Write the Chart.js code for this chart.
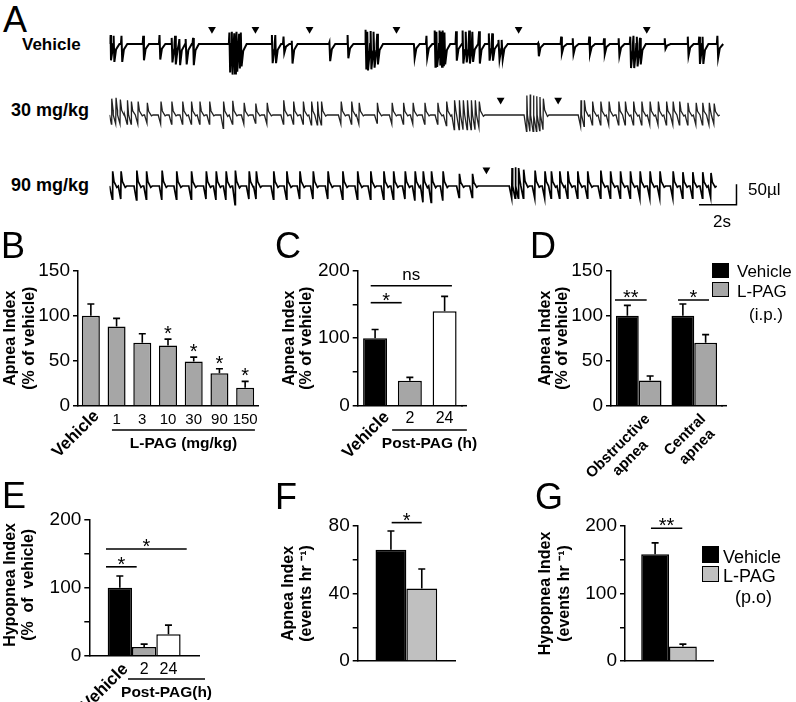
<!DOCTYPE html>
<html>
<head>
<meta charset="utf-8">
<title>L-PAG apnea figure</title>
<script src="https://cdn.jsdelivr.net/npm/chart.js@4.4.1/dist/chart.umd.min.js"></script>
<style>
  html, body { margin: 0; padding: 0; background: #fff; }
  body { position: relative; width: 796px; height: 702px; overflow: hidden; font-family: "Liberation Sans", Arial, sans-serif; }
  canvas { position: absolute; }
  .txt { position: absolute; white-space: pre; line-height: 1; color: #000; }
  .key { position: absolute; box-sizing: border-box; border: 1.5px solid #000; }
</style>
</head>
<body>
<script>
// Panel A: breaths, [time (s), rise (ul), dip (ul)]
const vehicleBreaths = [
  [0.05, 22, 40], [0.23, 20, 44], [0.65, 20, 44], [1.81, 20, 40], [2.68, 22, 38], [3.33, 15, 45],
  [3.51, 20, 50], [3.74, 12, 52], [4.09, 12, 50], [4.47, 15, 52],
  [6.41, 28, 70], [6.54, 30, 75], [6.67, 26, 72], [6.79, 30, 68], [6.93, 25, 60], [7.02, 28, 55],
  [8.68, 22, 47], [8.86, 22, 47], [9.30, 18, 22], [9.74, 8, 48], [11.75, 4, 42], [12.72, 22, 35],
  [13.68, 35, 60], [13.77, 30, 65], [13.95, 32, 62], [14.12, 30, 58], [14.30, 25, 50],
  [16.26, 2, 35], [16.93, 20, 34],
  [17.37, 33, 56], [17.46, 30, 56], [17.63, 33, 50], [17.72, 30, 56], [17.81, 33, 52], [17.89, 28, 50],
  [18.51, 31, 41], [18.86, 33, 48], [19.04, 30, 45], [19.21, 33, 48], [19.38, 30, 44], [19.74, 31, 48],
  [20.26, 26, 41], [20.44, 26, 41], [20.79, 10, 38], [20.96, 10, 38],
  [22.89, 2, 30], [24.12, 18, 23], [24.74, 14, 25], [25.62, 18, 25], [26.41, 14, 25], [27.19, 14, 29],
  [27.81, 18, 59], [27.98, 20, 59], [28.16, 18, 55], [28.33, 15, 50],
  [29.65, 14, 12], [30.88, 18, 29], [31.49, 18, 49], [31.67, 18, 49], [32.46, 20, 34]
];
const dose30Breaths = [
  [0.12, 40, 22], [0.35, 42, 22], [0.58, 38, 22], [0.96, 36, 22], [1.17, 33, 22], [1.53, 33, 22],
  [2.02, 30, 20], [2.75, 33, 22], [3.33, 33, 22], [3.91, 33, 22], [4.38, 33, 22], [4.83, 33, 22],
  [5.35, 33, 22], [6.09, 33, 33], [6.58, 35, 22], [7.19, 30, 22], [7.81, 28, 20], [8.42, 30, 22],
  [9.30, 36, 22], [9.83, 33, 22], [10.35, 33, 22], [10.79, 33, 24], [11.11, 33, 24], [11.32, 33, 24],
  [12.37, 33, 22], [12.93, 33, 22], [13.33, 30, 22], [14.30, 30, 20], [15.09, 30, 22], [15.70, 30, 22],
  [16.21, 30, 22], [16.84, 30, 22], [17.53, 30, 22], [18.00, 33, 26], [18.42, 36, 36], [18.68, 36, 36],
  [18.89, 36, 36], [19.11, 36, 36], [19.32, 36, 36], [19.53, 36, 36], [19.74, 33, 30],
  [22.28, 48, 40], [22.46, 50, 40], [22.63, 48, 40], [22.81, 46, 40], [22.98, 44, 38], [23.16, 40, 36],
  [25.17, 36, 28], [25.35, 36, 28], [25.79, 33, 24], [26.23, 33, 24], [26.67, 33, 24], [27.19, 33, 24],
  [27.54, 33, 24], [27.98, 33, 24], [28.42, 33, 24], [28.86, 33, 24], [29.30, 33, 24], [29.74, 33, 24],
  [30.09, 33, 24], [30.44, 33, 24], [30.88, 30, 24], [31.32, 30, 24], [31.67, 30, 24], [32.02, 30, 24],
  [32.28, 28, 22]
];
const dose90Breaths = [
  [0.17, 36, 32], [0.62, 36, 32], [1.46, 38, 34], [1.98, 36, 32], [2.81, 38, 34], [3.59, 36, 32],
  [4.38, 36, 32], [5.17, 36, 32], [5.70, 36, 34], [6.23, 36, 34], [6.72, 38, 46], [7.46, 36, 32],
  [7.84, 36, 32], [8.77, 36, 32], [9.47, 36, 32], [10.17, 36, 32], [10.88, 36, 32], [11.67, 36, 32],
  [12.46, 36, 32], [13.25, 36, 32], [13.95, 36, 32], [14.65, 36, 32], [15.17, 36, 32], [15.79, 36, 32],
  [16.32, 36, 36], [16.75, 36, 40], [17.19, 36, 40], [17.81, 36, 36], [18.68, 30, 28], [19.38, 30, 28],
  [21.49, 44, 30], [21.67, 46, 30], [21.84, 44, 30], [22.11, 40, 30], [22.72, 38, 30], [23.25, 36, 30],
  [23.59, 36, 30], [24.04, 36, 30], [24.47, 36, 30], [25.00, 36, 30], [25.53, 36, 30], [26.23, 38, 30],
  [26.75, 36, 30], [27.28, 36, 30], [27.81, 36, 30], [28.33, 36, 30], [28.86, 36, 30], [29.39, 36, 30],
  [30.09, 36, 30], [30.61, 34, 30], [31.14, 34, 30], [31.67, 34, 30], [32.11, 32, 28]
];
const vehicleApneas = [5.47, 7.79, 10.68, 15.32, 21.84, 28.68];
const dose30Apneas = [20.88, 23.95];
const dose90Apneas = [20.12];

// Panel B: apnea index by L-PAG dose (% of vehicle)
const doseLabels = ['Vehicle', '1', '3', '10', '30', '90', '150'];
const doseMeans = [100, 88, 70, 67, 49, 36, 20];
const doseErrors = [13, 9, 10, 7, 5, 5, 7];
const doseStars = ['', '', '', '*', '*', '*', '*'];

// Panel C: apnea index after L-PAG (h)
const timeLabels = ['Vehicle', '2', '24'];
const timeMeans = [100, 37, 140];
const timeErrors = [13, 5, 22];

// Panel D: obstructive vs central apnea
const typeLabels = [['Obstructive', 'apnea'], ['Central', 'apnea']];
const typeVehicle = [100, 100];
const typeVehicleErr = [11.5, 13];
const typeLpag = [28, 70];
const typeLpagErr = [5, 9];

// Panel E: hypopnea index after L-PAG (h)
const hypoLabels = ['Vehicle', '2', '24'];
const hypoMeans = [100, 13, 31.5];
const hypoErrors = [17.5, 4, 13.5];

// Panels F and G: oral dosing, events per hour [vehicle, L-PAG]
const oralApnea = [66, 43];
const oralApneaErr = [11, 11.5];
const oralHypopnea = [158, 21.5];
const oralHypopneaErr = [17, 3.5];

const FONT = '"Liberation Sans", Arial, sans-serif';
const BLACK = '#000000';
const GREY = '#a6a6a6';
const LIGHT = '#c0c0c0';
const WHITE = '#ffffff';

Chart.defaults.font.family = FONT;
Chart.defaults.color = '#000';

function makeCanvas(box) {
  const cv = document.createElement('canvas');
  cv.width = box.r - box.l;
  cv.height = box.b - box.t;
  cv.style.left = box.l + 'px';
  cv.style.top = box.t + 'px';
  document.body.appendChild(cv);
  return cv;
}

function put(text, x, base, size, bold) {
  const d = document.createElement('div');
  d.className = 'txt';
  d.textContent = text;
  d.style.left = x + 'px';
  d.style.top = (base - 0.8465 * size).toFixed(1) + 'px';
  d.style.fontSize = size + 'px';
  if (bold) d.style.fontWeight = 'bold';
  document.body.appendChild(d);
}

function key(x, y, w, h, color) {
  const d = document.createElement('div');
  d.className = 'key';
  d.style.left = x + 'px';
  d.style.top = y + 'px';
  d.style.width = w + 'px';
  d.style.height = h + 'px';
  d.style.background = color;
  document.body.appendChild(d);
}

// ---------- traces ----------
function buildTrace(breaths, shape) {
  const pts = [{x: 0, y: 0}];
  breaths.forEach(([t, up, down], i) => {
    const next = i + 1 < breaths.length ? breaths[i + 1][0] : Infinity;
    shape.forEach(([dt, a, b]) => {
      const x = t + dt;
      if (x <= pts[pts.length - 1].x) return;
      if (dt > 0.02 && x >= next + shape[0][0]) return;
      pts.push({x: x, y: a * up - b * down});
    });
  });
  return pts;
}

const spikeShape = [[-0.04, 0, 0], [-0.01, 1, 0], [0.03, 0, 1], [0.12, 0, 0.3], [0.3, 0, 0]];
const sawShape = [[-0.15, 0, 0], [-0.02, 0, 1], [0, 1, 0], [0.07, 0.3, 0], [0.22, 0, 0.1], [0.3, 0, 0]];

const scaleBar = {
  id: 'scaleBar',
  afterDraw(chart, args, opts) {
    if (!opts || !opts.show) return;
    const {ctx, scales: {x, y}} = chart;
    const x0 = x.getPixelForValue(opts.t0), x1 = x.getPixelForValue(opts.t0 + opts.sec);
    const y0 = y.getPixelForValue(opts.v0), y1 = y.getPixelForValue(opts.v0 + opts.vol);
    ctx.save();
    ctx.strokeStyle = '#000';
    ctx.lineWidth = 1.5;
    ctx.beginPath();
    ctx.moveTo(x0, y0);
    ctx.lineTo(x1, y0);
    ctx.lineTo(x1, y1);
    ctx.stroke();
    ctx.restore();
  }
};

function tracePanel(top, breaths, shape, apneas, arrowAt, width, color, bar) {
  const cv = makeCanvas({l: 105, t: top, r: 745, b: top + 80});
  new Chart(cv, {
    type: 'line',
    data: {
      datasets: [
        {data: buildTrace(breaths, shape), borderColor: color, borderWidth: width,
         pointRadius: 0, tension: 0, fill: false},
        {type: 'scatter', data: apneas.map(t => ({x: t, y: arrowAt})), pointStyle: 'triangle',
         rotation: 180, pointRadius: 4.5, backgroundColor: '#000', borderWidth: 0}
      ]
    },
    options: {
      responsive: false, animation: false, events: [],
      layout: {padding: 0},
      plugins: {legend: {display: false}, tooltip: {enabled: false}, scaleBar: bar || {show: false}},
      scales: {
        x: {type: 'linear', display: false, min: 0, max: 640 / 19},
        y: {display: false, min: -87, max: 87}
      }
    },
    plugins: [scaleBar]
  });
}

tracePanel(4, vehicleBreaths, spikeShape, vehicleApneas, 36, 2, '#000');
tracePanel(75, dose30Breaths, sawShape, dose30Apneas, 37, 1.3, '#222');
tracePanel(146, dose90Breaths, sawShape, dose90Apneas, 40, 1.7, '#000',
  {show: true, t0: 31.47, sec: 2, v0: -46, vol: 50});

// ---------- bar panels ----------
function marks(spec) {
  return {
    id: 'marks',
    afterDraw(chart) {
      const {ctx, chartArea: area, scales: {x, y}} = chart;
      ctx.save();
      ctx.strokeStyle = '#000';
      ctx.fillStyle = '#000';
      ctx.lineWidth = 1.6;
      ctx.textBaseline = 'alphabetic';
      const bars = [];
      chart.data.datasets.forEach((ds, di) => {
        chart.getDatasetMeta(di).data.forEach((bar, j) => {
          bars.push(bar);
          const top = y.getPixelForValue(ds.data[j] + ds.errors[j]);
          ctx.beginPath();
          ctx.moveTo(bar.x, bar.y);
          ctx.lineTo(bar.x, top);
          ctx.moveTo(bar.x - 3.5, top);
          ctx.lineTo(bar.x + 3.5, top);
          ctx.stroke();
          if (ds.stars && ds.stars[j]) {
            ctx.font = '20px ' + FONT;
            ctx.textAlign = 'center';
            ctx.fillText(ds.stars[j], bar.x, top + 1);
          }
        });
      });

      if (spec.axisExtra) {
        ctx.lineWidth = 1.5;
        ctx.beginPath();
        ctx.moveTo(area.right - 1, area.bottom);
        ctx.lineTo(area.right + spec.axisExtra, area.bottom);
        ctx.stroke();
        ctx.lineWidth = 1.6;
      }

      // y-axis title, two rotated lines
      ctx.save();
      ctx.font = 'bold 16px ' + FONT;
      ctx.textAlign = 'center';
      ctx.textBaseline = 'middle';
      spec.yTitle.forEach((s, k) => {
        ctx.save();
        ctx.translate(spec.titleX[k], (area.top + area.bottom) / 2 + (spec.titleDy || 0));
        ctx.rotate(-Math.PI / 2);
        ctx.fillText(s, 0, 0);
        ctx.restore();
      });
      ctx.restore();

      (spec.brackets || []).forEach(b => {
        const yy = y.getPixelForValue(b.at);
        const x1 = x.getPixelForValue(b.from), x2 = x.getPixelForValue(b.to);
        ctx.beginPath();
        ctx.moveTo(x1, yy);
        ctx.lineTo(x2, yy);
        ctx.stroke();
        const star = b.text.charAt(0) === '*';
        ctx.font = (star ? '20px ' : '17px ') + FONT;
        ctx.textAlign = 'center';
        ctx.fillText(b.text, (x1 + x2) / 2, star ? yy + 4 : yy - 6);
      });

      // x labels: rotated blocks are anchored at their upper-right end, lines centred
      const pos = spec.perBar ? bars.map(b => b.x) : spec.labels.map((_, i) => x.getPixelForValue(i));
      spec.labels.forEach((lab, i) => {
        const lines = [].concat(lab);
        if (spec.rotate[i]) {
          ctx.save();
          ctx.translate(pos[i] + spec.rot[0], area.bottom + spec.rot[1]);
          ctx.rotate(-Math.PI / 4);
          ctx.font = 'bold ' + spec.rotSize + 'px ' + FONT;
          ctx.textAlign = 'center';
          const w = Math.max(...lines.map(s => ctx.measureText(s).width));
          lines.forEach((s, k) => ctx.fillText(s, -w / 2, k * 17));
          ctx.restore();
        } else {
          ctx.font = spec.numSize + 'px ' + FONT;
          ctx.textAlign = 'center';
          ctx.textBaseline = 'middle';
          ctx.fillText(lines[0], pos[i], area.bottom + spec.numDy);
          ctx.textBaseline = 'alphabetic';
        }
      });

      if (spec.group) {
        const g = spec.group;
        const gy = area.bottom + g.dy;
        const gx1 = x.getPixelForValue(g.from), gx2 = x.getPixelForValue(g.to);
        ctx.lineWidth = 1.5;
        ctx.beginPath();
        ctx.moveTo(gx1, gy);
        ctx.lineTo(gx2, gy);
        ctx.stroke();
        ctx.font = 'bold 15.5px ' + FONT;
        ctx.textAlign = 'center';
        ctx.fillText(g.text, (gx1 + gx2) / 2, gy + 18);
      }
      ctx.restore();
    }
  };
}

function barPanel(box, area, cfg) {
  const cv = makeCanvas(box);
  cfg.marks.yTitle = cfg.yTitle;
  cfg.marks.titleX = cfg.titleX.map(v => v - box.l);
  return new Chart(cv, {
    type: 'bar',
    data: {labels: cfg.labels, datasets: cfg.datasets},
    options: {
      responsive: false, animation: false, events: [],
      layout: {padding: {left: 0, top: area.t - box.t, right: box.r - area.r, bottom: 0}},
      datasets: {bar: {categoryPercentage: cfg.catPct, barPercentage: cfg.barPct,
                       borderColor: '#000', borderWidth: 1.5}},
      plugins: {legend: {display: false}, tooltip: {enabled: false}},
      scales: {
        x: {
          ticks: {display: false},
          grid: {display: false},
          border: {color: '#000', width: 1.5},
          afterFit: s => { s.height = box.b - area.b; }
        },
        y: {
          min: 0, max: cfg.max,
          ticks: {stepSize: cfg.step, color: '#000', font: {size: 19}, padding: 3,
                  callback: v => (v % cfg.labelEvery === 0 ? String(v) : '')},
          grid: {drawOnChartArea: false, drawTicks: true, tickLength: 5, color: '#000', lineWidth: 1.5},
          border: {color: '#000', width: 1.5},
          afterFit: s => { s.width = area.l - box.l; }
        }
      }
    },
    plugins: [marks(cfg.marks)]
  });
}

// B
barPanel({l: 0, t: 225, r: 262, b: 462}, {l: 78, t: 270.7, r: 258, b: 405.7}, {
  labels: doseLabels, max: 150, step: 25, labelEvery: 50, catPct: 1, barPct: 0.7,
  yTitle: ['Apnea Index', '(% of vehicle)'], titleX: [11, 30],
  datasets: [{data: doseMeans, errors: doseErrors, stars: doseStars, backgroundColor: GREY}],
  marks: {labels: doseLabels, rotate: [true, false, false, false, false, false, false],
          rot: [9, 11], rotSize: 17, numSize: 15, numDy: 14.3,
          group: {from: 0.82, to: 6.38, dy: 24.3, text: 'L-PAG (mg/kg)'}}
});

// C
barPanel({l: 262, t: 225, r: 505, b: 462}, {l: 357.7, t: 270.7, r: 462, b: 405.7}, {
  labels: timeLabels, max: 200, step: 50, labelEvery: 100, catPct: 1, barPct: 0.69,
  yTitle: ['Apnea Index', '(% of vehicle)'], titleX: [290, 307],
  datasets: [{data: timeMeans, errors: timeErrors, backgroundColor: [BLACK, GREY, WHITE]}],
  marks: {labels: timeLabels, rotate: [true, false, false], rot: [15, 12], rotSize: 17,
          numSize: 16, numDy: 13, axisExtra: 5,
          brackets: [{from: -0.126, to: 0.765, at: 152.6, text: '*'},
                     {from: -0.126, to: 2.21, at: 177.8, text: 'ns'}],
          group: {from: 0.49, to: 2.64, dy: 24.3, text: 'Post-PAG (h)'}}
});

// D
barPanel({l: 505, t: 225, r: 735, b: 490}, {l: 611, t: 270.7, r: 722, b: 405.7}, {
  labels: typeLabels, max: 150, step: 25, labelEvery: 50, catPct: 0.82, barPct: 1,
  yTitle: ['Apnea Index', '(% of vehicle)'], titleX: [545.5, 563],
  datasets: [{label: 'Vehicle', data: typeVehicle, errors: typeVehicleErr, backgroundColor: BLACK},
             {label: 'L-PAG', data: typeLpag, errors: typeLpagErr, backgroundColor: GREY}],
  marks: {labels: typeLabels, rotate: [true, true], rot: [12, 14], rotSize: 15, axisExtra: 5,
          brackets: [{from: -0.428, to: 0.143, at: 117.4, text: '**'},
                     {from: 0.707, to: 1.266, at: 117.4, text: '*'}]}
});

// E
barPanel({l: 0, t: 470, r: 262, b: 702}, {l: 89.3, t: 520, r: 199, b: 655.7}, {
  labels: [''], max: 200, step: 50, labelEvery: 100, catPct: 0.665, barPct: 1,
  yTitle: ['Hypopnea Index', '(%  of  vehicle)'], titleX: [11, 29],
  datasets: hypoMeans.map((v, i) => ({data: [v], errors: [hypoErrors[i]],
                                      backgroundColor: [BLACK, GREY, WHITE][i]})),
  marks: {labels: hypoLabels, perBar: true, rotate: [true, false, false], rot: [9, 14],
          rotSize: 17, numSize: 16, numDy: 14, titleDy: -3,
          brackets: [{from: -0.348, to: -0.068, at: 131, text: '*'},
                     {from: -0.348, to: 0.388, at: 157.3, text: '*'}],
          group: {from: -0.147, to: 0.555, dy: 23.3, text: 'Post-PAG(h)'}}
});

// F
barPanel({l: 262, t: 470, r: 505, b: 702}, {l: 357.7, t: 526, r: 455, b: 661}, {
  labels: [''], max: 80, step: 20, labelEvery: 40, catPct: 0.634, barPct: 1,
  yTitle: ['Apnea Index', '(events hr \u207B\u00B9)'], titleX: [289, 307],
  datasets: [{data: [oralApnea[0]], errors: [oralApneaErr[0]], backgroundColor: BLACK},
             {data: [oralApnea[1]], errors: [oralApneaErr[1]], backgroundColor: LIGHT}],
  marks: {labels: [], rotate: [],
          brackets: [{from: -0.151, to: 0.158, at: 82, text: '*'}]}
});

// G
barPanel({l: 505, t: 470, r: 735, b: 702}, {l: 625, t: 526, r: 713, b: 661}, {
  labels: [''], max: 200, step: 50, labelEvery: 100, catPct: 0.632, barPct: 1,
  yTitle: ['Hypopnea Index', '(events hr \u207B\u00B9)'], titleX: [546, 564.5],
  datasets: [{data: [oralHypopnea[0]], errors: [oralHypopneaErr[0]], backgroundColor: BLACK},
             {data: [oralHypopnea[1]], errors: [oralHypopneaErr[1]], backgroundColor: LIGHT}],
  marks: {labels: [], rotate: [],
          brackets: [{from: -0.205, to: 0.151, at: 196.6, text: '**'}]}
});

// ---------- text and keys ----------
put('A', 3, 32, 36);
put('Vehicle', 22, 50, 17, true);
put('30 mg/kg', 11, 116, 18, true);
put('90 mg/kg', 11, 191, 18, true);
put('50\u00B5l', 748, 195, 17);
put('2s', 713, 227, 17);

put('B', 1, 258, 36);
put('C', 275, 258, 36);
put('D', 530, 258, 36);
put('E', 2, 508, 36);
put('F', 275, 509, 36);
put('G', 535, 509, 36);

key(712, 263, 17, 15, BLACK);
key(712, 282, 17, 15, GREY);
put('Vehicle', 737, 277, 17);
put('L-PAG', 737, 297, 17);
put('(i.p.)', 749, 320, 17);

key(702, 546, 17, 17, BLACK);
key(702, 566, 17, 16, LIGHT);
put('Vehicle', 723, 563, 18);
put('L-PAG', 723, 582, 18);
put('(p.o)', 735, 603, 18);
</script>
</body>
</html>
